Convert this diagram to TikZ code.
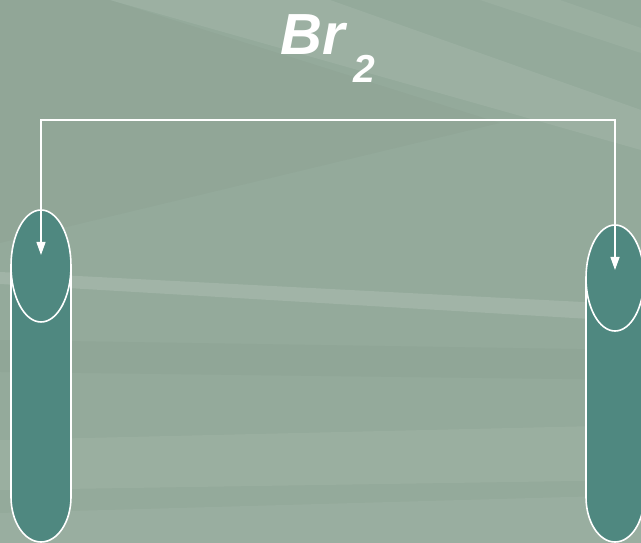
\documentclass[tikz,border=0pt]{standalone}
\usepackage{fontspec}
\setmainfont{Liberation Sans}
\usetikzlibrary{shapes.geometric,arrows.meta}
\definecolor{bg}{HTML}{94AA9B}
\definecolor{tube}{HTML}{4F8880}
\begin{document}
\begin{tikzpicture}[x=1pt,y=1pt,
  tubeline/.style={draw=white,line width=1.6pt,fill=tube},
  link/.style={draw=white,line width=1.3pt,{Triangle[length=13pt,width=9pt]}-{Triangle[length=13pt,width=9pt]}},
  lightstreak/.style={fill=white,opacity=#1},
  darkstreak/.style={fill=black,opacity=#1}]
\fill[bg] (0,0) rectangle (641,543);
\useasboundingbox (0,0) rectangle (641,543);
\begin{scope}
\clip (0,0) rectangle (641,543);
% background streaks
\fill[darkstreak=0.02] (0,543) -- (110,543) -- (500,420) -- (0,300) -- cycle;
\fill[lightstreak=0.08] (110,543) -- (330,543) -- (641,433) -- (641,393) -- cycle;
\fill[lightstreak=0.06] (480,543) -- (560,543) -- (641,515) -- (641,490) -- cycle;
\fill[lightstreak=0.12] (0,271) -- (641,238) -- (641,221) -- (0,259) -- cycle;
\fill[darkstreak=0.025] (0,203) -- (641,193) -- (641,163) -- (0,171) -- cycle;
\fill[lightstreak=0.06] (0,103) -- (641,118) -- (641,63) -- (0,53) -- cycle;
\fill[lightstreak=0.05] (0,30) -- (641,48) -- (641,0) -- (0,0) -- cycle;
% tubes
\path[tubeline] (11,277) -- (11,46) arc[start angle=180,end angle=360,x radius=30,y radius=45] -- (71,277);
\node[ellipse,tubeline,minimum width=60pt,minimum height=112pt,inner sep=0pt] (L) at (41,277) {};
\path[tubeline] (586,265) -- (586,46) arc[start angle=180,end angle=360,x radius=29,y radius=45] -- (644,265);
\node[ellipse,tubeline,minimum width=58pt,minimum height=106pt,inner sep=0pt] (R) at (615,265) {};
\end{scope}
% connector
\coordinate (Ltip) at (41,288);
\coordinate (Rtip) at (615,273);
\coordinate (Lc) at (41,423);
\coordinate (Rc) at (615,423);
\draw[link] (Ltip) -- (Lc) -- (Rc) -- (Rtip);
% title
\node[anchor=base west,inner sep=0pt,text=white,font=\fontsize{58}{60}\selectfont\bfseries\itshape] (T) at (280,488) {Br\hspace{9pt}\raisebox{-28pt}{\fontsize{39}{40}\selectfont 2}};
\end{tikzpicture}
\end{document}
